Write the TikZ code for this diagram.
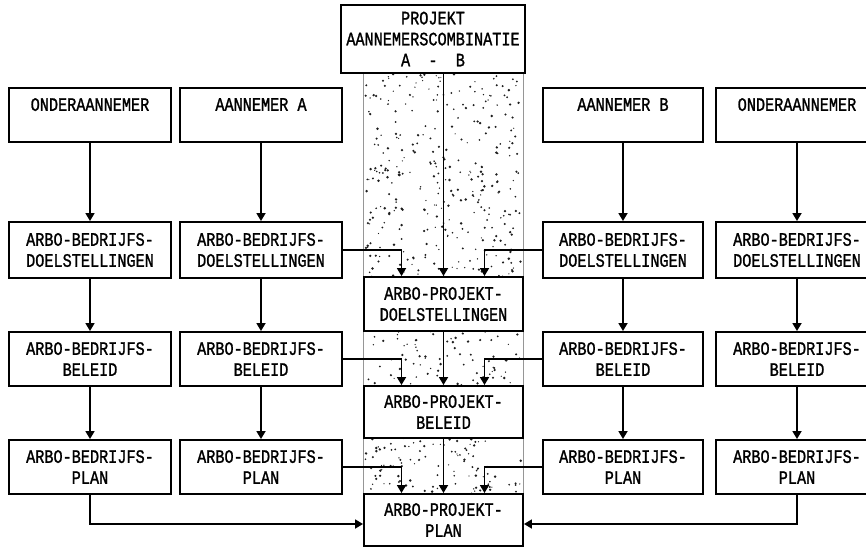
\documentclass[tikz,border=0pt]{standalone}
\usepackage{fontspec}
\newfontfamily\plotfont[FakeStretch=0.8,FakeBold=1.2]{Liberation Mono}
\usetikzlibrary{arrows.meta}

\definecolor{cstipple}{RGB}{30,30,30}
\definecolor{cedge}{RGB}{150,150,150}

\tikzset{
  box/.style={draw=black, line width=1.9pt, fill=white, inner sep=0pt,
    minimum width=162pt, minimum height=54pt, align=center,
    font=\plotfont\fontsize{19}{21}\selectfont},
  flow/.style={draw=black, line width=1.7pt, -{Triangle[width=9pt,length=8pt]}},
}

\begin{document}
\begin{tikzpicture}[x=1pt, y=-1pt]
  \useasboundingbox (0,0) rectangle (866,548);
  \clip (0,0) rectangle (866,548);
  \fill[white] (0,0) rectangle (866,548);

  % stippled project column
  \pgfmathsetseed{4711}
  \foreach \k in {1,...,720}{
    \pgfmathsetmacro{\dx}{365+156*rnd}
    \pgfmathsetmacro{\dy}{74+420*rnd}
    \pgfmathsetmacro{\dr}{0.6+0.8*rnd}
    \fill[cstipple] (\dx,\dy) circle[radius=\dr pt];
  }
  \draw[cedge, line width=0.8pt] (363,73) -- (363,494);
  \draw[cedge, line width=0.8pt] (523,73) -- (523,494);

  % top
  \node[box, minimum width=184pt, minimum height=68pt] (proj) at (433,39)
    {PROJEKT\\AANNEMERSCOMBINATIE\\A~~-~~B};

  % firms
  \node[box] (ondL) at (90,115) {ONDERAANNEMER\\\mbox{}};
  \node[box] (annA) at (261,115) {AANNEMER A\\\mbox{}};
  \node[box, minimum width=160pt] (annB) at (623,115) {AANNEMER B\\\mbox{}};
  \node[box] (ondR) at (797,115) {ONDERAANNEMER\\\mbox{}};

  % doelstellingen
  \node[box, minimum height=56pt] (doelL) at (90,250) {ARBO-BEDRIJFS-\\DOELSTELLINGEN};
  \node[box, minimum height=56pt] (doelA) at (261,250) {ARBO-BEDRIJFS-\\DOELSTELLINGEN};
  \node[box, minimum height=56pt, minimum width=160pt] (doelB) at (623,250) {ARBO-BEDRIJFS-\\DOELSTELLINGEN};
  \node[box, minimum height=56pt] (doelR) at (797,250) {ARBO-BEDRIJFS-\\DOELSTELLINGEN};

  % beleid
  \node[box] (belL) at (90,359) {ARBO-BEDRIJFS-\\BELEID};
  \node[box] (belA) at (261,359) {ARBO-BEDRIJFS-\\BELEID};
  \node[box, minimum width=160pt] (belB) at (623,359) {ARBO-BEDRIJFS-\\BELEID};
  \node[box] (belR) at (797,359) {ARBO-BEDRIJFS-\\BELEID};

  % plan
  \node[box] (planL) at (90,467) {ARBO-BEDRIJFS-\\PLAN};
  \node[box] (planA) at (261,467) {ARBO-BEDRIJFS-\\PLAN};
  \node[box, minimum width=160pt] (planB) at (623,467) {ARBO-BEDRIJFS-\\PLAN};
  \node[box] (planR) at (797,467) {ARBO-BEDRIJFS-\\PLAN};

  % project
  \node[box, minimum width=159pt] (pdoel) at (443.5,304) {ARBO-PROJEKT-\\DOELSTELLINGEN};
  \node[box, minimum width=159pt, minimum height=52pt] (pbel) at (443.5,412) {ARBO-PROJEKT-\\BELEID};
  \node[box, minimum width=159pt, minimum height=52pt] (pplan) at (443.5,520) {ARBO-PROJEKT-\\PLAN};

  % columns
  \draw[flow] (ondL) -- (doelL);
  \draw[flow] (doelL) -- (belL);
  \draw[flow] (belL) -- (planL);
  \draw[flow] (annA) -- (doelA);
  \draw[flow] (doelA) -- (belA);
  \draw[flow] (belA) -- (planA);
  \draw[flow] (annB) -- (doelB);
  \draw[flow] (doelB) -- (belB);
  \draw[flow] (belB) -- (planB);
  \draw[flow] (ondR) -- (doelR);
  \draw[flow] (doelR) -- (belR);
  \draw[flow] (belR) -- (planR);

  % into project
  \draw[flow] (proj.south -| pdoel.north) -- (pdoel.north);
  \draw[flow] (pdoel) -- (pbel);
  \draw[flow] (pbel) -- (pplan);
  \draw[flow] (doelA.east) -| ([xshift=-42pt]pdoel.north);
  \draw[flow] (doelB.west) -| ([xshift=41pt]pdoel.north);
  \draw[flow] (belA.east) -| ([xshift=-42pt]pbel.north);
  \draw[flow] (belB.west) -| ([xshift=41pt]pbel.north);
  \draw[flow] (planA.east) -| ([xshift=-42pt]pplan.north);
  \draw[flow] (planB.west) -| ([xshift=41pt]pplan.north);
  \draw[flow] (planL.south) |- ([yshift=-4pt]pplan.west);
  \draw[flow] (planR.south) |- ([yshift=-4pt]pplan.east);
\end{tikzpicture}
\end{document}
